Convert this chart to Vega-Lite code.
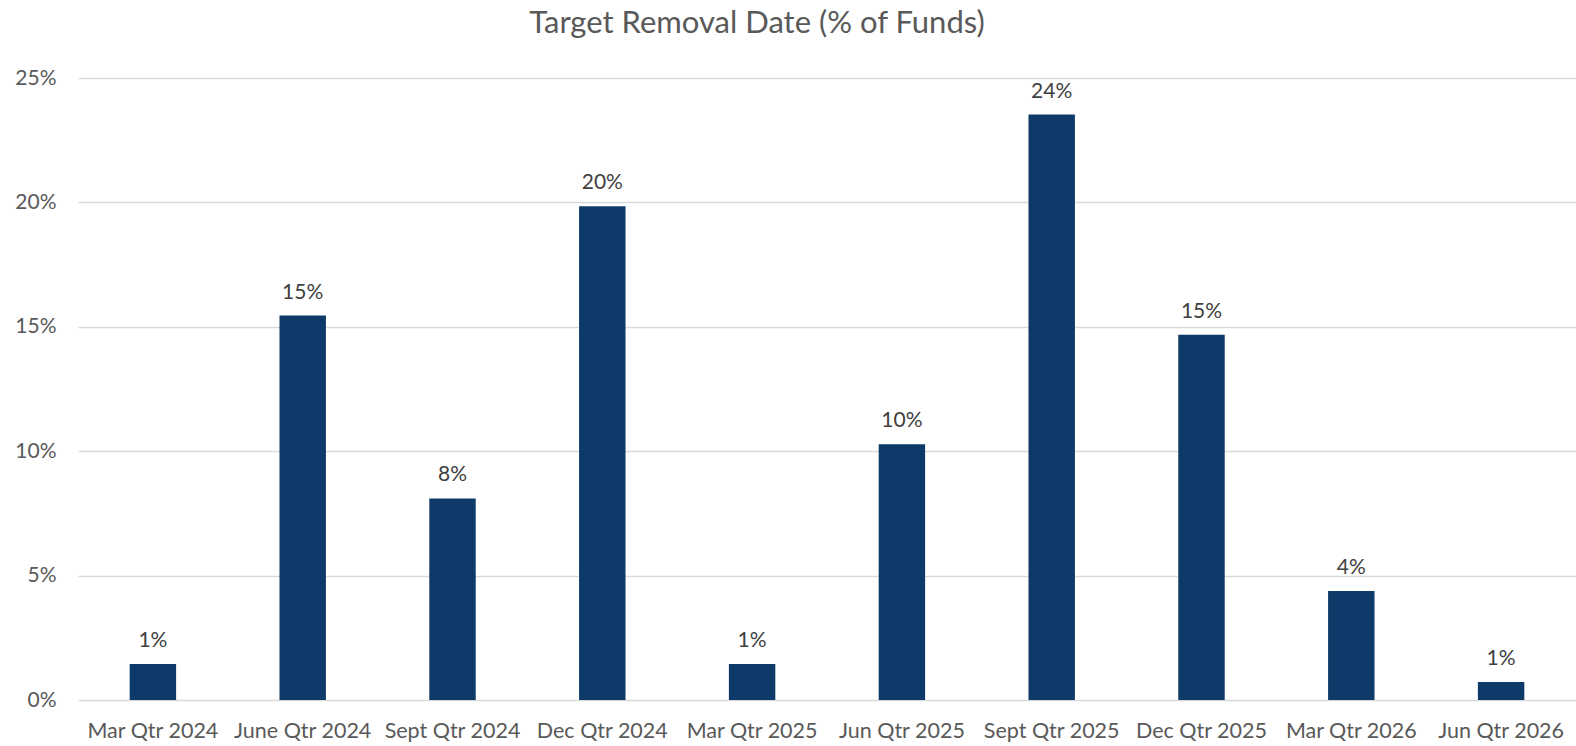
{
  "$schema": "https://vega.github.io/schema/vega-lite/v6.json",
  "width": 1498,
  "height": 622,
  "autosize": "none",
  "padding": {"left": 78, "top": 78, "right": 0, "bottom": 46},
  "background": "white",
  "title": {
    "text": "Target Removal Date (% of Funds)",
    "font": "Lato",
    "fontSize": 31,
    "fontWeight": "normal",
    "color": "#595959",
    "anchor": "middle",
    "dx": -70,
    "baseline": "alphabetic",
    "offset": 3
  },
  "data": {
    "values": [
      {"quarter": "Mar Qtr 2024", "value": 0.0145},
      {"quarter": "June Qtr 2024", "value": 0.1545},
      {"quarter": "Sept Qtr 2024", "value": 0.081},
      {"quarter": "Dec Qtr 2024", "value": 0.1985},
      {"quarter": "Mar Qtr 2025", "value": 0.0145},
      {"quarter": "Jun Qtr 2025", "value": 0.1028},
      {"quarter": "Sept Qtr 2025", "value": 0.2353},
      {"quarter": "Dec Qtr 2025", "value": 0.1468},
      {"quarter": "Mar Qtr 2026", "value": 0.0438},
      {"quarter": "Jun Qtr 2026", "value": 0.0072}
    ]
  },
  "encoding": {
    "x": {
      "field": "quarter",
      "type": "nominal",
      "sort": null,
      "scale": {"paddingInner": 0.69, "paddingOuter": 0.345},
      "axis": {
        "title": null,
        "labelAngle": 0,
        "labelFont": "Lato",
        "labelFontSize": 21.5,
        "labelColor": "#595959",
        "labelPadding": 20,
        "ticks": false,
        "domain": false,
        "grid": false
      }
    },
    "y": {
      "field": "value",
      "type": "quantitative",
      "scale": {"domain": [0, 0.25]},
      "axis": {
        "title": null,
        "format": ".0%",
        "values": [0, 0.05, 0.1, 0.15, 0.2, 0.25],
        "labelFont": "Lato",
        "labelFontSize": 21,
        "labelColor": "#595959",
        "labelPadding": 22,
        "ticks": false,
        "domain": false,
        "grid": true,
        "gridColor": "#d9d9d9",
        "gridWidth": 1.5
      }
    }
  },
  "layer": [
    {"mark": {"type": "bar", "color": "#0e3a69"}},
    {
      "mark": {
        "type": "text",
        "baseline": "alphabetic",
        "dy": -17,
        "font": "Lato",
        "fontSize": 21,
        "color": "#404040"
      },
      "encoding": {
        "text": {"field": "value", "type": "quantitative", "format": ".0%"}
      }
    }
  ],
  "config": {"view": {"stroke": null}}
}
